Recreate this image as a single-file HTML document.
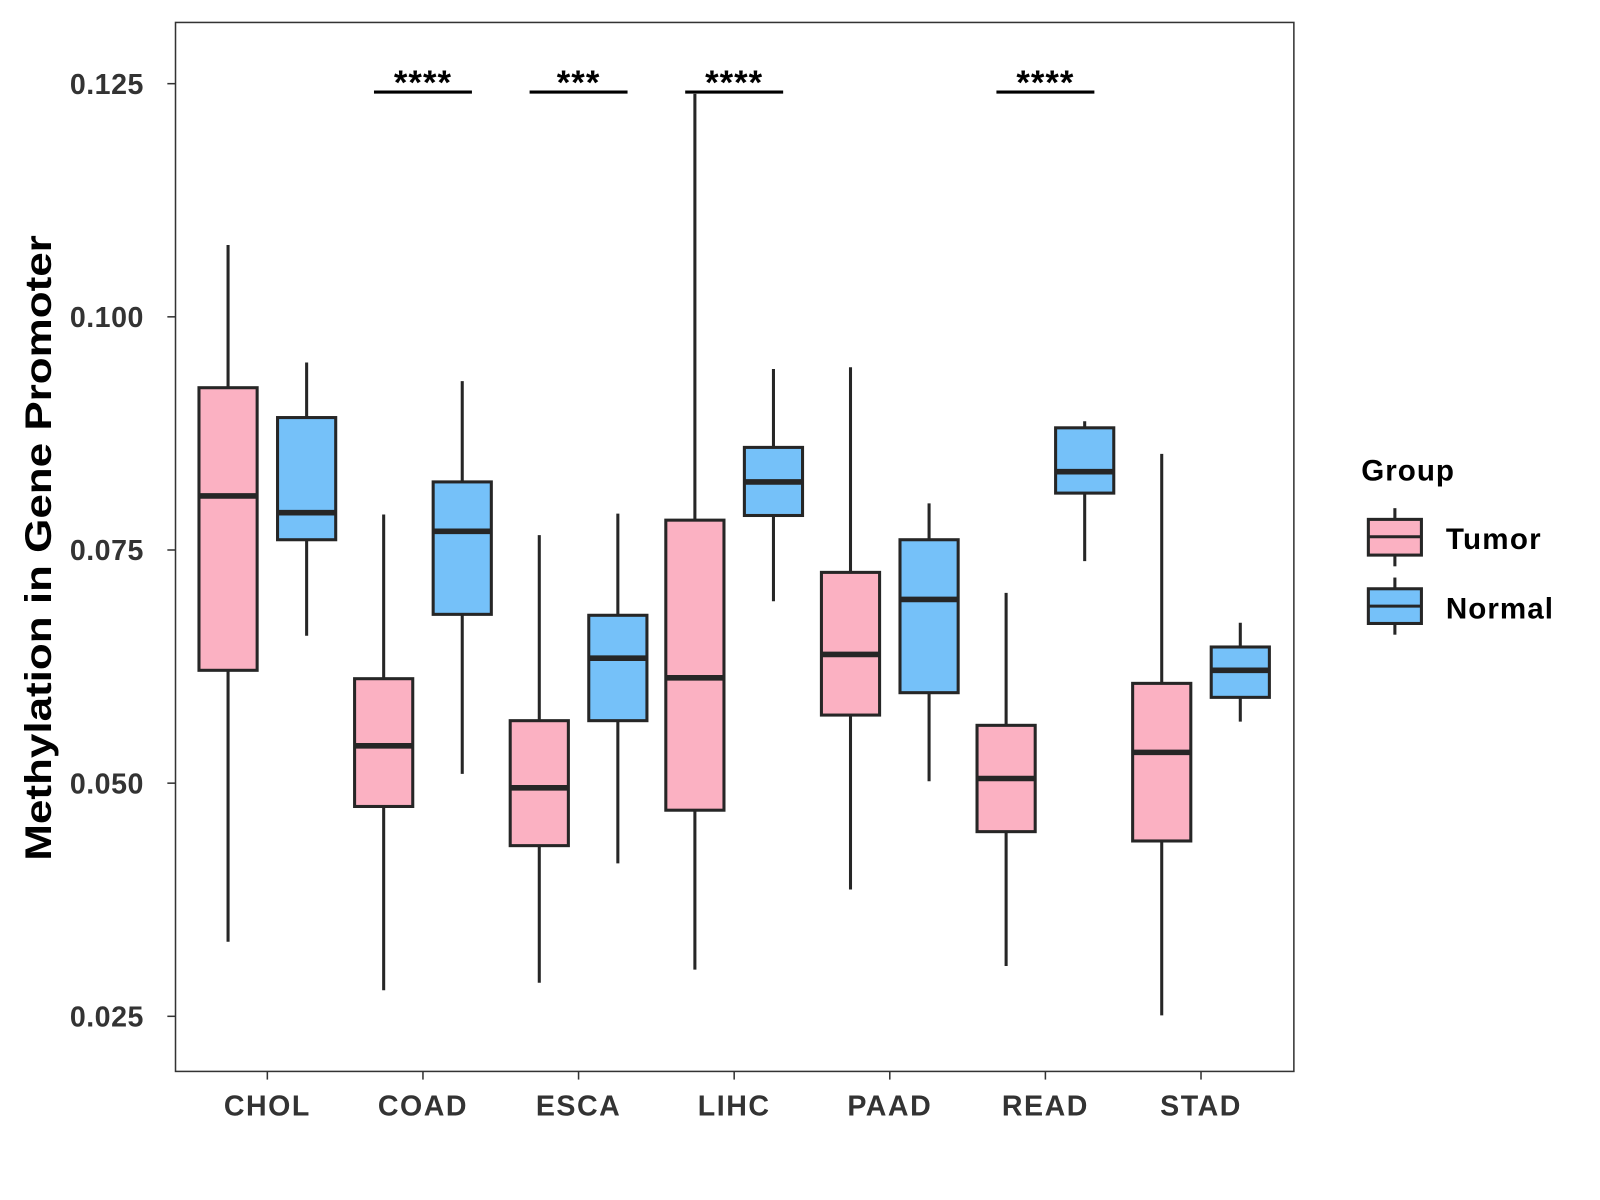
<!DOCTYPE html>
<html><head><meta charset="utf-8"><style>
html,body{margin:0;padding:0;background:#fff;}
svg{display:block;font-family:"Liberation Sans",Arial,sans-serif;}
</style></head><body>
<svg id="chart" width="1600" height="1200" viewBox="0 0 1600 1200">
<g transform="scale(1.0204)">
<rect x="172" y="22" width="1096" height="1028" fill="#fff" stroke="#333" stroke-width="1.5"/>
<g id="marks"></g>
<text transform="translate(50,537) rotate(-90)" text-anchor="middle" font-size="36" font-weight="bold" fill="#000" textLength="613" lengthAdjust="spacingAndGlyphs">Methylation in Gene Promoter</text>
<g>
<text x="1334" y="471" font-size="29" font-weight="bold" fill="#000" letter-spacing="1">Group</text>
<g>
<line x1="1367" y1="498" x2="1367" y2="555" stroke="#262626" stroke-width="3"/>
<rect x="1341" y="509" width="52" height="35" fill="#FBB1C2" stroke="#262626" stroke-width="3"/>
<line x1="1341" y1="526" x2="1393" y2="526" stroke="#262626" stroke-width="3"/>
<text x="1417" y="538" font-size="29" font-weight="bold" fill="#000" letter-spacing="1.2">Tumor</text>
</g>
<g>
<line x1="1367" y1="566" x2="1367" y2="622" stroke="#262626" stroke-width="3"/>
<rect x="1341" y="577" width="52" height="34" fill="#75C1F9" stroke="#262626" stroke-width="3"/>
<line x1="1341" y1="594" x2="1393" y2="594" stroke="#262626" stroke-width="3"/>
<text x="1417" y="606" font-size="29" font-weight="bold" fill="#000" letter-spacing="1">Normal</text>
</g>
</g>
</g>
</svg>
<script>
const categories = ["CHOL","COAD","ESCA","LIHC","PAAD","READ","STAD"];
// [low, q1, median, q3, high]
const tumorStats = [
 [0.0330,0.0621,0.0808,0.0924,0.1077],
 [0.0278,0.0475,0.0540,0.0612,0.0788],
 [0.0286,0.0433,0.0495,0.0567,0.0766],
 [0.0300,0.0471,0.0613,0.0782,0.1239],
 [0.0386,0.0573,0.0638,0.0726,0.0946],
 [0.0304,0.0448,0.0505,0.0562,0.0704],
 [0.0251,0.0438,0.0533,0.0607,0.0853]
];
const normalStats = [
 [0.0658,0.0761,0.0790,0.0892,0.0951],
 [0.0510,0.0681,0.0770,0.0823,0.0931],
 [0.0414,0.0567,0.0634,0.0680,0.0789],
 [0.0695,0.0787,0.0823,0.0860,0.0944],
 [0.0502,0.0597,0.0697,0.0761,0.0800],
 [0.0738,0.0811,0.0834,0.0881,0.0888],
 [0.0566,0.0592,0.0621,0.0646,0.0672]
];
const yTicks = [0.025,0.050,0.075,0.100,0.125];
const yTickLabels = ["0.025","0.050","0.075","0.100","0.125"];
const sigCategories = ["COAD","ESCA","LIHC","READ"];
const sigLabels = ["****","***","****","****"];
const sigValue = 0.1241;

const NS="http://www.w3.org/2000/svg";
const g=document.getElementById('marks');
function y(v){return 82+(0.125-v)*9140;}
function x(i){return 262+i*152.5;}
function el(tag,attrs,parent){const e=document.createElementNS(NS,tag);for(const k in attrs)e.setAttribute(k,attrs[k]);(parent||g).appendChild(e);return e;}
const dark="#262626";
yTicks.forEach((t,i)=>{
 const l=el('line',{x1:164,x2:172,y1:y(t),y2:y(t),stroke:'#333','stroke-width':1.5});
 
 
 const tx=el('text',{x:141,y:y(t)+10,'text-anchor':'end','font-size':28,'font-weight':'bold',fill:'#333','letter-spacing':0.5});
 tx.textContent=yTickLabels[i];
 
 
});
categories.forEach((c,i)=>{
 const l=el('line',{x1:x(i),x2:x(i),y1:1050,y2:1058,stroke:'#333','stroke-width':1.5});
 
 
 const tx=el('text',{x:x(i),y:1093,'text-anchor':'middle','font-size':28,'font-weight':'bold',fill:'#333','letter-spacing':1.5});
 tx.textContent=c;
 
 
});
function box(cx,s,fill,name){
 const grp=el('g',{});
 
 
 el('line',{x1:cx,x2:cx,y1:y(s[4]),y2:y(s[0]),stroke:dark,'stroke-width':3},grp);
 el('rect',{x:cx-28.5,y:y(s[3]),width:57,height:y(s[1])-y(s[3]),fill:fill,stroke:dark,'stroke-width':3},grp);
 el('line',{x1:cx-28.5,x2:cx+28.5,y1:y(s[2]),y2:y(s[2]),stroke:dark,'stroke-width':5.5},grp);
}
categories.forEach((c,i)=>{
 box(x(i)-38.5,tumorStats[i],'#FBB1C2','box-tumor-'+c.toLowerCase());
 box(x(i)+38.5,normalStats[i],'#75C1F9','box-normal-'+c.toLowerCase());
});
sigCategories.forEach((c,k)=>{
 const i=categories.indexOf(c);
 const l=el('line',{x1:x(i)-48,x2:x(i)+48,y1:y(sigValue),y2:y(sigValue),stroke:'#000','stroke-width':3});
 
 
 const t=el('text',{x:x(i),y:y(sigValue)+2,'text-anchor':'middle','font-size':34,'font-weight':'bold',fill:'#000','letter-spacing':1});
 t.textContent=sigLabels[k];
 
 
});
</script>
</body></html>
